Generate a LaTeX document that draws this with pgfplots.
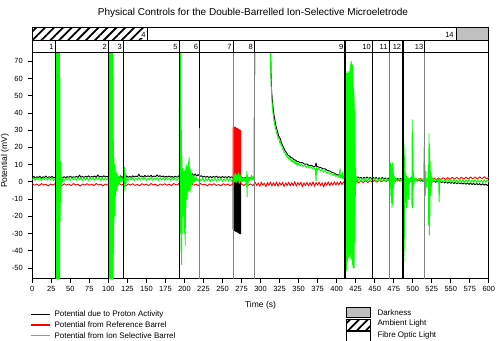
\documentclass[border=0pt]{standalone}
\usepackage{pgfplots}
\pgfplotsset{compat=1.18}
\usepackage{fontspec}
\setmainfont{Liberation Sans}
\usetikzlibrary{patterns.meta}
\definecolor{isegreen}{RGB}{0,255,0}
\definecolor{refred}{RGB}{255,0,0}
\definecolor{evgray}{RGB}{130,130,130}
\definecolor{darkbox}{RGB}{192,192,192}
\tikzset{hatch/.style={pattern={Lines[angle=45,distance=6.3pt,line width=1.8pt]}}}

\begin{document}
\begin{tikzpicture}[x=1pt,y=1pt]
\path[use as bounding box] (0,0) rectangle (500,340);
\begin{axis}[
  at={(32.3pt,61.2pt)}, anchor=south west,
  scale only axis, width=456.5pt, height=226.3pt,
  xmin=0, xmax=600, ymin=-56.3, ymax=75.1,
  xtick={0,25,...,600}, ytick={-50,-40,...,70},
  tick align=outside, xtick pos=bottom, ytick pos=left,
  major tick length=4pt,
  tick style={black, line width=0.8pt},
  axis line style={black, line width=1pt},
  tick label style={font=\fontsize{7.5}{9}\selectfont},
  yticklabel style={xshift=-2pt},
  /pgf/number format/assume math mode=true,
  clip mode=individual,
  every axis plot/.append style={line width=0.9pt, line join=round},
]
% --- potential due to proton activity ---
\addplot[black, fill=black] coordinates {(264,0)(264,-27.5)(266,-28.3)(268,-28.8)(270,-29.2)(272,-29.8)(274,-30.2)(274,0)} -- cycle;
\addplot[black] coordinates {
(0,2.3)(2,3.2)(4,2.2)(6,3.0)(8,2.5)(10,3.3)(12,2.1)(14,2.9)(16,2.6)(18,3.4)(20,2.3)(22,3.0)(24,2.5)(26,3.2)(28,2.2)(30,2.8)
(31,2)(32,-3)(33,1)(34,-2)(35,1)(36,0)(37,1.5)(38,1)(40,2.4)
(42,3.0)(44,2.3)(46,3.1)(48,2.5)(50,3.3)(52,2.4)(54,3.0)(56,2.6)(58,3.2)(60,2.5)(62,3.9)(64,2.6)(66,3.2)(68,2.5)(70,3.3)(72,2.7)(74,3.5)(76,2.6)(78,3.1)(80,2.8)(82,3.4)(84,2.6)(86,4.0)(88,2.8)(90,3.3)(92,2.7)(94,3.5)(96,2.8)(98,3.2)(100,2.6)
(101,4)(102,0)(103,5)(104,-2)(105,3)(106,1)(108,3.5)(110,1.5)(112,3.2)(114,2.0)(116,3.5)(118,2.4)(120,3.2)(122,2.3)
(124,3.5)(126,2.6)(128,3.2)(130,2.7)(132,3.5)(134,2.8)(136,3.3)(138,2.9)(140,4.4)(142,3.0)(144,3.4)(146,2.8)(148,3.7)(150,2.9)(152,3.5)(154,3.0)(156,3.8)(158,2.8)(160,3.4)(162,3.0)(164,4.0)(166,3.1)(168,3.6)(170,2.9)(172,3.4)(174,2.7)(176,3.2)(178,2.8)(180,3.4)(182,2.7)(184,3.1)(186,2.6)(188,3.3)(190,2.7)(192,3.0)
(194,4.5)(196,2)(198,4)(200,3)(202,5)(204,3.5)(206,5.5)(208,3.8)(210,4.8)(212,3.5)(214,4.6)(216,3.4)(218,4.2)
(220,3.0)(222,3.6)(224,2.7)(226,3.3)(228,2.6)(230,3.2)(232,2.5)(234,3.1)(236,2.4)(238,3.2)(240,2.6)(242,3.3)(244,2.5)(246,3.0)(248,2.4)(250,3.1)(252,2.5)(254,3.0)(256,2.4)(258,3.1)(260,2.5)(262,2.9)(263.8,2.5)(264,0)(274,0)(274.4,2)
(276,2.6)(278,1.9)(280,2.6)(282,1.8)(284,2.5)(286,2.0)(288,2.7)(290,2.2)(291.8,3.0)(292.2,78)(313.2,78)
(313.6,66)(314,60)(314.5,53)(315,50)(316,45)(317,41)(318,38)(319,35.5)(320,33)(322,29.5)(324,26.5)(326,25)(328,22)(330,20.2)(332,18.2)(334,17)(336,15.5)(338,15)(340,14)(342,13.8)(344,12.8)(346,12.6)(348,11.8)(350,11.8)(352,11)(355,11.2)(358,10.2)(361,10.4)(364,9.4)(367,9.6)(370,8.7)(372,9.2)(373,11)(373.6,9)(376,8.6)(379,8.3)(382,7.6)(385,7.5)(388,6.6)(391,6.3)(394,5.4)(397,5.1)(400,4.2)(403,4.0)(405,3.3)(408,3.5)(410,2.8)(411,3.2)
(412,20)(413,-20)(414,25)(415,-15)(416,20)(417,-10)(418,25)(419,-15)(420,20)(421,-20)(422,15)(423,-10)(424,5)(425,1)(426,2.5)
(428,2.8)(430,1.9)(432,2.7)(434,1.8)(436,2.6)(438,1.9)(440,2.8)(442,1.8)(444,2.6)(446,1.7)(448,2.5)(450,1.8)(452,2.6)(454,1.7)(456,2.4)(458,1.6)(460,2.5)(462,1.6)(464,2.3)(466,1.5)(468,2.2)(470,1.5)(472,2.3)(474,1.4)(476,2.2)(478,1.3)(480,2.0)(482,1.2)(484,1.9)(486,1.1)(488,1.8)(490,1.0)(492,1.7)(494,0.9)(496,1.6)(498,0.8)(500,1.4)
(502,0.6)(504,1.3)(506,0.5)(508,1.2)(510,0.4)(512,1.0)(514,0.2)(516,0.9)(518,0.1)(520,0.8)(522,0.0)(524,0.7)(526,-0.1)(528,0.6)(530,-0.3)(532,0.4)(534,-0.4)(536,0.3)(538,-0.5)(540,0.2)(542,-0.7)(544,0.0)(546,-0.8)(548,-0.1)(550,-0.9)
(552,-0.2)(554,-1.0)(556,-0.3)(558,-1.1)(560,-0.4)(562,-1.2)(564,-0.5)(566,-1.3)(568,-0.5)(570,-1.4)(572,-0.6)(574,-1.5)(576,-0.7)(578,-1.6)(580,-0.8)(582,-1.7)(584,-0.9)(586,-1.8)(588,-1.0)(590,-1.9)(592,-1.1)(594,-2.0)(596,-1.2)(598,-2.1)(600,-1.4)
};
% --- potential from reference barrel ---
\addplot[refred, fill=refred] coordinates {(264,0)(264,31.5)(266,31.8)(268,31.2)(270,30.8)(272,30.2)(274,29.6)(274,0)} -- cycle;
\addplot[refred] coordinates {
(0,-1.1)(3,-2.0)(6,-1.3)(9,-2.2)(12,-1.0)(15,-1.8)(18,-1.4)(21,-2.4)(24,-1.2)(27,-1.9)(30,-1.1)(33,-2.1)(36,-1.5)(39,-2.3)(42,-1.1)(45,-1.9)(48,-1.3)(51,-2.2)(54,-1.0)(57,-1.8)(60,-1.4)(63,-2.5)(66,-1.2)(69,-1.9)(72,-1.1)(75,-2.0)(78,-1.3)(81,-2.2)(84,-1.0)(87,-1.8)(90,-1.4)(93,-2.4)(96,-1.2)(99,-1.9)
(102,-1.1)(105,-2.0)(108,-1.3)(111,-2.2)(114,-1.0)(117,-1.8)(120,-1.4)(123,-2.4)(126,-1.2)(129,-1.9)(132,-1.1)(135,-2.1)(138,-1.5)(141,-2.3)(144,-1.1)(147,-1.9)(150,-1.3)(153,-2.2)(156,-1.0)(159,-1.8)(162,-1.4)(165,-2.5)(168,-1.2)(171,-1.9)(174,-1.1)(177,-2.0)(180,-1.3)(183,-2.2)(186,-1.0)(189,-1.8)(192,-1.4)
(194,0.2)(196,-2.8)(198,-0.5)(200,-2.2)(203,-1.2)(206,-1.9)(209,-1.1)(212,-2.0)(215,-1.3)(218,-2.2)(221,-1.0)(224,-1.8)(227,-1.4)(230,-2.4)(233,-1.2)(236,-1.9)(239,-1.1)(242,-2.1)(245,-1.5)(248,-2.3)(251,-1.1)(254,-1.9)(257,-1.3)(260,-2.2)(263,-1.4)(263.7,-1)(264,0)(274,0)(274.3,-1)
(275,-1.3)(278,-2.1)(281,-1.1)(284,-2.0)(287,-1.2)(290,-2.2)
(293,-0.3)(295,-2.2)(297,-0.6)(299,-2.6)(301,-0.2)(303,-2.0)(305,-0.7)(307,-2.8)(309,-0.4)(311,-2.1)(313,-0.1)(315,-2.4)(317,-0.5)(319,-2.3)(321,0.0)(323,-2.6)(325,-0.4)(327,-2.0)(329,-0.3)(331,-2.7)(333,-0.6)(335,-2.1)(337,-0.2)(339,-2.4)(341,-0.5)(343,-2.2)(345,0.1)(347,-2.5)(349,-0.4)(351,-2.0)
(353,-0.2)(355,-2.9)(357,-0.6)(359,-2.1)(361,-0.3)(363,-2.4)(365,-0.5)(367,-2.2)(369,0.0)(371,-2.6)(373,-0.4)(375,-2.0)(377,-0.1)(379,-2.3)(381,-0.5)(383,-3.0)(385,-0.3)(387,-2.1)(389,0.0)(391,-2.2)(393,-0.4)(395,-2.0)(397,0.1)(399,-1.9)(401,-0.2)(403,-1.8)(405,0.2)(407,-1.6)(409,0.0)(411,-1.2)
(414,0.2)(417,-1.0)(420,0.4)(423,-0.8)(426,0.5)(429,-0.6)(432,0.6)(435,-0.5)(438,0.7)(441,-0.4)(444,0.8)(447,-0.3)
(450,0.9)(453,-0.2)(456,1.0)(459,0.0)(462,1.1)(465,0.1)(468,1.2)(471,0.2)(474,1.3)(477,0.3)(480,1.4)(483,0.4)(486,1.5)(489,0.5)(492,1.6)(495,0.6)(498,1.7)(501,0.7)(504,1.8)(507,0.8)(510,1.9)(513,0.9)(516,2.0)(519,1.0)(522,2.1)(525,1.1)
(528,2.2)(531,1.2)(534,2.3)(537,1.3)(540,2.4)(543,1.3)(546,2.5)(549,1.4)(552,2.6)(555,1.5)(558,2.6)(561,1.5)(564,2.7)(567,1.6)(570,2.7)(573,1.6)(576,2.8)(579,1.7)(582,2.8)(585,1.7)(588,2.9)(591,1.8)(594,2.9)(597,1.8)(600,2.6)
};
% --- potential from ion selective barrel ---
\addplot[isegreen] coordinates {
(0,1.2)(2,2.4)(4,0.8)(6,2.3)(8,1.0)(10,2.6)(12,0.6)(14,2.1)(16,1.3)(18,2.7)(20,0.9)(22,2.3)(24,1.1)(26,2.5)(28,0.7)(30,1.8)
(30.6,1.5)(30.8,78)(31.1,-58)(31.4,78)(31.7,-58)(32,66)(32.3,-58)(32.6,78)(32.9,-58)(33.2,78)(33.5,-58)(33.8,78)(34.1,-58)(34.4,78)(34.7,-58)(35,78)(35.3,-58)(35.6,78)(35.9,-58)(36.2,60)(36.5,-23)(36.8,12)(37.1,-12)(37.5,6)(38,-4)(38.5,3)(39,-1)(40,2.0)
(42,0.7)(44,2.2)(46,1.0)(48,2.5)(50,0.8)(52,2.3)(54,1.2)(56,2.6)(58,0.9)(60,2.4)(62,1.1)(64,2.2)(66,0.7)(68,2.5)(70,1.0)(72,2.3)(74,0.8)(76,2.6)(78,1.2)(80,2.4)(82,0.9)(84,2.2)(86,1.1)(88,2.5)(90,0.8)(92,2.3)(94,1.0)(96,2.4)(98,1.1)(100,2.0)
(100.5,1.5)(100.7,78)(101,-58)(101.3,78)(101.6,-58)(101.9,78)(102.2,-58)(102.5,78)(102.8,-58)(103.1,78)(103.4,-58)(103.7,78)(104,-58)(104.3,78)(104.6,-58)(104.9,78)(105.2,-58)(105.5,78)(105.8,-58)(106.1,78)(106.4,-58)(106.7,24)(107,-41)(107.4,14)(107.8,-20)(108.2,10)(108.6,-12)(109,8)(109.5,-8)(110,6)(110.5,-5)(111,5)(111.5,-4)(112,4)(113,-2)(114,3.5)(115,-1)(116,3)(117,0)(118,2.5)(119,0.5)(120,2.5)(120.8,-3)(121.3,8.5)(121.8,-5.5)(122.3,5)(123,-1)(124,2.4)
(126,0.8)(128,2.3)(130,1.1)(132,2.5)(134,0.7)(136,2.2)(138,1.0)(140,2.6)(142,0.9)(144,2.4)(146,1.2)(148,2.5)(150,0.8)(152,2.2)(154,1.1)(156,2.6)(158,0.9)(160,2.3)(162,1.2)(164,2.4)(166,0.8)(168,2.5)(170,1.0)(172,2.3)(174,0.9)(176,2.4)(178,1.1)(180,2.2)(182,0.8)(184,2.5)(186,1.0)(188,2.3)(190,0.9)(192,2.0)
(193.3,2)(193.5,78)(193.8,-10)(194.1,78)(194.4,-30)(194.7,78)(195,-20)(195.3,78)(195.6,-40)(195.9,30)(196.2,-48)(196.6,15)(197,-30)(197.4,8)(197.8,-20)(198.2,5)(198.6,-15)(199,6)(199.4,-25)(199.8,5)(200.2,-30)(200.6,7)(201,-37)(201.4,6)(201.8,-15)(202.2,9)(202.6,-8)(203,10)(203.4,-10)(203.8,8)(204.2,-6)(204.6,9)(205,-4)(205.4,12)(205.8,-5)(206.2,14)(206.6,-4)(207,8)(207.5,-6)(208,7)(208.5,-3)(209,5)(209.6,-2)(210.2,4)(211,-1)(212,3.5)(213,0)(214,3)(215,0.5)(216,2.5)
(218,0.3)(220,2.0)(222,0.5)(224,2.2)(226,0.2)(228,1.9)(230,0.6)(232,2.1)(234,0.1)(236,1.8)(238,0.5)(240,2.2)(242,0.3)(244,1.9)(246,0.6)(248,2.0)(250,0.2)(252,1.8)(254,0.5)(256,2.1)(258,0.3)(260,1.9)(262,0.4)(264,2)
(265,4.5)(266,0)(267,5)(268,-0.5)(269,4.2)(270,0.5)(271,5.2)(272,-1)(273,4)(274,0.2)(275,3.5)(276,0)(277,2.5)(278,0.5)(279,2.3)(280,0)(281,3)(281.6,-3)(282,6)(282.4,-8.5)(282.8,4)(283.3,-2)(284,2.5)(285,0.5)(286,2.4)(287,1)(288,3.8)(289,1.2)(290,3.0)(291,1.0)(291.8,2.5)
(292.2,78)(312.8,78)
(313.3,68)(313.6,62)(314,57)(314.5,50)(315,47)(315.5,43)(316,42)(316.5,39)(317,38.5)(317.5,35.5)(318,35.5)(318.5,33)(319,33)(319.5,30.5)(320,31)(321,28)(322,28)(323,25)(324,25.5)(325,22.8)(326,23.5)(327,20.8)(328,21)(329,18.8)(330,19)(331,16.9)(332,17.3)(333,15.5)(334,16)(335,14.2)(336,15)(337,13.3)(338,14)(339,12.5)(340,13.4)(341,11.7)(342,12.8)(343,11.1)(344,12.2)(345,10.5)(346,11.7)(347,10)(348,11.2)(349,9.6)(350,10.8)
(352,9.2)(354,10.3)(356,8.8)(358,9.8)(360,8.3)(362,9.4)(364,7.9)(366,9.0)(368,7.5)(370,8.6)(372,7.0)(373,0.5)(373.5,8.2)(375,6.7)(377,7.8)(379,6.2)(381,7.2)(383,5.6)(385,6.6)(387,5.0)(389,5.9)(391,4.3)(393,5.2)(395,3.7)(397,4.6)(399,3.1)(401,4.0)(403,2.6)(404.5,7.6)(405,2.5)(406,3.4)(407,2.0)(408,5.5)(408.5,2.0)(409,3.0)(410,1.6)(411,2.5)
(411.5,2)(411.8,62)(412.1,-52)(412.4,63)(412.7,-45)(413,62)(413.3,-51)(413.6,64)(413.9,-42)(414.2,61)(414.5,-46)(414.8,63)(415.1,-40)(415.4,62)(415.7,-44)(416,64)(416.3,-38)(416.6,63)(416.9,-43)(417.2,60)(417.5,-40)(417.8,66)(418.1,-42)(418.4,68)(418.7,-45)(419,70)(419.3,-41)(419.6,69)(419.9,-44)(420.2,67)(420.5,-46)(420.8,68)(421.1,-48)(421.4,60)(421.7,-50)(422,55)(422.3,-48)(422.6,52)(422.9,-50)(423.2,48)(423.5,-35)(423.8,40)(424.1,-20)(424.4,20)(424.7,-8)(425,8)(425.4,-2)(426,3)
(428,0.4)(430,2.1)(432,0.2)(434,1.9)(436,0.5)(438,2.2)(440,0.3)(442,2.0)(444,0.1)(446,1.8)(448,0.4)(450,2.0)(452,0.2)(454,1.9)(456,0.5)(458,2.1)(460,0.3)(462,1.8)(464,0.2)(466,2.0)(468,0.5)
(469.6,1)(470,8)(470.4,-4)(470.8,11)(471.2,-8)(471.6,10)(472,-12)(472.4,9)(472.8,-15)(473.2,11)(473.6,-13)(474,8)(474.4,-6)(474.8,5)(475.3,-2)(476,3)(477,0)(478,2)
(480,0.3)(482,1.9)(484,0.5)(486,1.8)
(487.6,1)(488,24)(488.3,-46)(488.6,22)(488.9,-40)(489.2,15)(489.5,-20)(489.8,10)(490.2,-6)(490.6,5)(491,-12)(491.4,4)(492,-15)(492.5,3)(493,-8)(493.5,2)(494.2,-10)(495,2)(496,-1)(497,2.5)(498,0)(498.6,3)(499,-14)(499.4,36)(499.8,-15)(500.2,20)(500.6,-5)(501,6)(501.5,-2)(502,2.5)(503,0)(504,2)
(506,0.2)(508,1.9)(510,0.4)(512,2.0)(514,0.3)
(514.5,1)(515,20)(515.4,-3)(515.8,12)(516.5,-8)(517.2,6)(518,-3)(519,2)(520,0)(520.6,10)(521,-25)(521.4,28)(521.8,-31)(522.2,22)(522.6,-20)(523,12)(523.4,-8)(523.8,5)(524.4,-3)(525,3)(526,0)(527,2.2)(528,0.2)(530,1.8)(532,0.3)(534,1.7)(534.8,-11.5)(535.3,1.5)(536,0.2)
(538,1.5)(540,-0.2)(542,1.4)(544,-0.3)(546,1.6)(548,-0.1)(550,1.3)(552,-0.3)(554,1.5)(556,-0.2)(558,1.2)(560,-0.4)(562,1.4)(564,-0.2)(566,1.3)(568,-0.5)(570,1.2)(572,-0.3)(574,1.4)(576,-0.4)(578,1.1)(580,-0.3)(582,1.3)(584,-0.5)(586,1.2)(588,-0.2)(590,1.0)(592,-0.4)(594,1.2)(596,-0.3)(598,1.0)(600,0.0)
};
% --- event markers ---
\foreach \t/\w in {30/1.1pt,100/1.2pt,120/0.8pt,193/1.1pt,411/1.6pt,447/1.1pt,487/1.6pt}
  {\edef\temp{\noexpand\draw[black, line width=\w] (axis cs:\t,-56.3) -- (axis cs:\t,81.78);}\temp}
\foreach \t in {264,292,469,516}
  {\edef\temp{\noexpand\draw[evgray, line width=1.1pt] (axis cs:\t,-56.3) -- (axis cs:\t,75.1); \noexpand\draw[black, line width=1.1pt] (axis cs:\t,75.1) -- (axis cs:\t,81.78);}\temp}
\draw[evgray, line width=1.1pt] (axis cs:220,-56.3) -- (axis cs:220,31);
\draw[black, line width=1.1pt] (axis cs:220,31) -- (axis cs:220,81.78);
% --- lighting condition band and event numbers ---
\fill[hatch] (axis cs:0,81.78) rectangle (axis cs:152,89.33);
\fill[darkbox] (axis cs:557,81.78) rectangle (axis cs:600,89.33);
\draw[black, line width=1pt] (axis cs:152,81.78) -- (axis cs:152,89.33);
\draw[black, line width=1pt] (axis cs:557,81.78) -- (axis cs:557,89.33);
\draw[black, line width=1pt] (axis cs:0,75.1) rectangle (axis cs:600,89.33);
\draw[black, line width=1pt] (axis cs:0,81.78) -- (axis cs:600,81.78);
\foreach \t/\n in {30/1,100/2,120/3,193/5,220/6,264/7,292/8,411/9,447/10,469/11,487/12,516/13}
  {\edef\temp{\noexpand\node[anchor=east, inner xsep=1.5pt, font=\noexpand\fontsize{7.5}{9}\noexpand\selectfont] at (axis cs:\t,78.45) {\n};}\temp}
\node[anchor=east, inner xsep=1.5pt, font=\fontsize{7.5}{9}\selectfont, fill=white, inner ysep=0.5pt] at (axis cs:151,85.5) {4};
\node[anchor=east, inner xsep=1.5pt, font=\fontsize{7.5}{9}\selectfont] at (axis cs:556,85.5) {14};
\end{axis}
% titles
\node[font=\fontsize{10}{12}\selectfont] at (253,327) {Physical Controls for the Double-Barrelled Ion-Selective Microeletrode};
\node[font=\fontsize{8.5}{10}\selectfont] at (260.5,35) {Time (s)};
\node[rotate=90, font=\fontsize{8.5}{10}\selectfont] at (5,179) {Potential (mV)};
% legends
\begin{scope}[font=\fontsize{8}{9}\selectfont]
\draw[black, line width=1.3pt] (31,25.7) -- (50,25.7);
\node[anchor=west, inner xsep=0pt] at (54.3,25.7) {Potential due to Proton Activity};
\draw[refred, line width=1.3pt] (31,15) -- (50,15);
\node[anchor=west, inner xsep=0pt] at (54.3,15) {Potential from Reference Barrel};
\draw[isegreen, line width=1.3pt] (31,4.3) -- (50,4.3);
\node[anchor=west, inner xsep=0pt] at (54.3,4.3) {Potential from Ion Selective Barrel};
\filldraw[fill=darkbox, draw=black, line width=0.7pt] (346.7,22.7) rectangle (370.7,32.7);
\node[anchor=west, inner xsep=0pt] at (377.3,27.3) {Darkness};
\fill[hatch] (346.7,10) rectangle (370.7,21);
\draw[black, line width=0.7pt] (346.7,10) rectangle (370.7,21);
\node[anchor=west, inner xsep=0pt] at (377.3,16.3) {Ambient Light};
\draw[black, line width=0.7pt] (346.7,-3) rectangle (370.7,8.3);
\node[anchor=west, inner xsep=0pt] at (377.3,4.3) {Fibre Optic Light};
\end{scope}
\end{tikzpicture}
\end{document}
